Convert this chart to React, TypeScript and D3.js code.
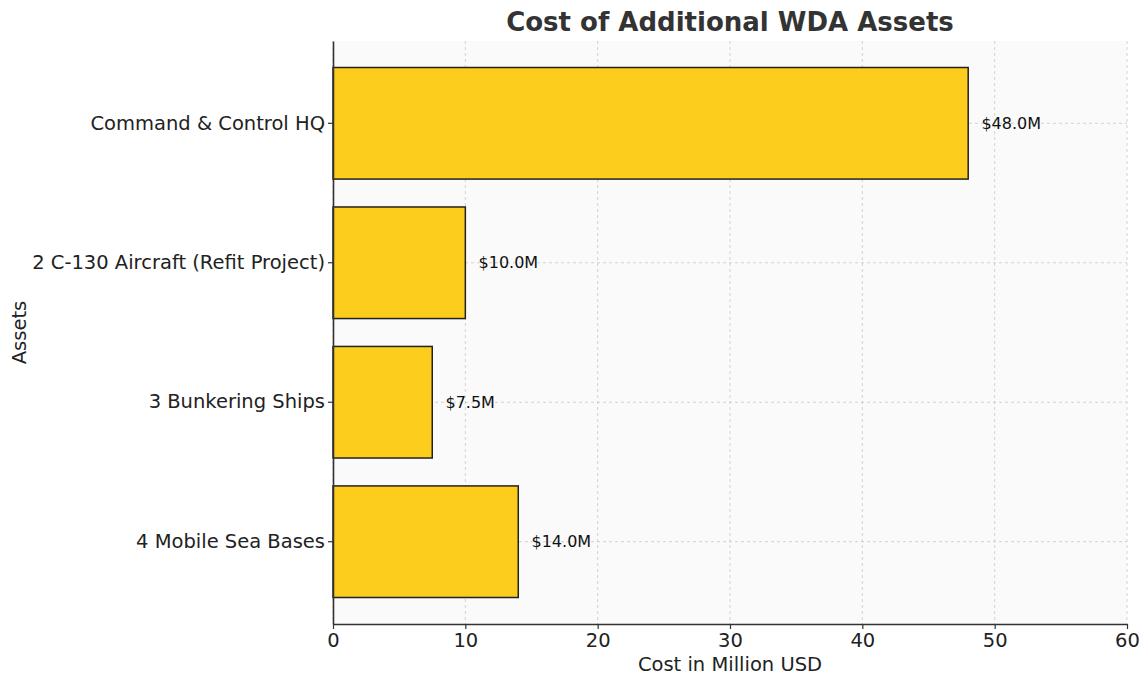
import { useEffect, useRef } from 'react';
import * as d3 from 'd3';

const categories = ['Command & Control HQ', '2 C-130 Aircraft (Refit Project)', '3 Bunkering Ships', '4 Mobile Sea Bases'];
const costs = [48.0, 10.0, 7.5, 14.0];
const xTicks = [0, 10, 20, 30, 40, 50, 60];

const width = 1144;
const height = 675;
const margin = { top: 41, right: 17, bottom: 51, left: 333 };

export default function App() {
  const svgRef = useRef<SVGSVGElement>(null);

  useEffect(() => {
    if (!svgRef.current) return;
    const svg = d3.select(svgRef.current);
    svg.selectAll('*').remove();

    const innerWidth = width - margin.left - margin.right;
    const innerHeight = height - margin.top - margin.bottom;
    const font = 'DejaVu Sans, sans-serif';

    const x = d3.scaleLinear().domain([0, 60]).range([0, innerWidth]);
    const y = d3.scaleBand<string>()
      .domain(categories)
      .range([0, innerHeight])
      .paddingInner(0.2)
      .paddingOuter(0.19);

    const g = svg.append('g').attr('transform', `translate(${margin.left},${margin.top})`);

    // plot background
    g.append('rect')
      .attr('width', innerWidth)
      .attr('height', innerHeight)
      .attr('fill', '#fafafa');

    // grid
    g.append('g')
      .selectAll('line')
      .data(xTicks)
      .join('line')
      .attr('x1', d => x(d))
      .attr('x2', d => x(d))
      .attr('y1', 0)
      .attr('y2', innerHeight)
      .attr('stroke', '#c8c8c8')
      .attr('stroke-width', 0.8)
      .attr('stroke-dasharray', '3,3');

    g.append('g')
      .selectAll('line')
      .data(categories)
      .join('line')
      .attr('x1', 0)
      .attr('x2', innerWidth)
      .attr('y1', d => y(d)! + y.bandwidth() / 2)
      .attr('y2', d => y(d)! + y.bandwidth() / 2)
      .attr('stroke', '#c8c8c8')
      .attr('stroke-width', 0.8)
      .attr('stroke-dasharray', '3,3');

    // bars
    g.selectAll('.bar')
      .data(categories)
      .join('rect')
      .attr('class', 'bar')
      .attr('x', 0)
      .attr('y', d => y(d)!)
      .attr('width', (_, i) => x(costs[i]))
      .attr('height', y.bandwidth())
      .attr('fill', '#fccd1c')
      .attr('stroke', '#222')
      .attr('stroke-width', 1.5);

    // value labels
    g.selectAll('.val')
      .data(categories)
      .join('text')
      .attr('class', 'val')
      .attr('x', (_, i) => x(costs[i] + 1))
      .attr('y', d => y(d)! + y.bandwidth() / 2)
      .attr('dy', '0.35em')
      .attr('font-family', font)
      .attr('font-size', 16)
      .attr('fill', '#111')
      .text((_, i) => `$${costs[i].toFixed(1)}M`);

    // axes
    const xAxis = g.append('g')
      .attr('transform', `translate(0,${innerHeight})`)
      .call(d3.axisBottom(x).tickValues(xTicks).tickSize(5).tickPadding(4).tickSizeOuter(0));
    const yAxis = g.append('g')
      .call(d3.axisLeft(y).tickSize(5).tickPadding(3).tickSizeOuter(0));

    [xAxis, yAxis].forEach(ax => {
      ax.select('.domain').attr('stroke', '#333').attr('stroke-width', 1.6);
      ax.selectAll('.tick line').attr('stroke', '#333').attr('stroke-width', 1.2);
      ax.selectAll('.tick text')
        .attr('font-family', font)
        .attr('font-size', 19.5)
        .attr('fill', '#222');
    });

    // title
    svg.append('text')
      .attr('x', margin.left + innerWidth / 2)
      .attr('y', 31)
      .attr('text-anchor', 'middle')
      .attr('font-family', font)
      .attr('font-size', 26)
      .attr('font-weight', 'bold')
      .attr('fill', '#333')
      .text('Cost of Additional WDA Assets');

    // axis labels
    svg.append('text')
      .attr('x', margin.left + innerWidth / 2)
      .attr('y', 671)
      .attr('text-anchor', 'middle')
      .attr('font-family', font)
      .attr('font-size', 19.5)
      .attr('fill', '#222')
      .text('Cost in Million USD');

    svg.append('text')
      .attr('transform', `translate(26,${margin.top + innerHeight / 2}) rotate(-90)`)
      .attr('text-anchor', 'middle')
      .attr('font-family', font)
      .attr('font-size', 19.5)
      .attr('fill', '#222')
      .text('Assets');
  }, []);

  return (
    <div style={{ position: 'fixed', left: 0, top: 0, background: '#fff' }}>
      <svg ref={svgRef} width={width} height={height} style={{ display: 'block' }} />
    </div>
  );
}
